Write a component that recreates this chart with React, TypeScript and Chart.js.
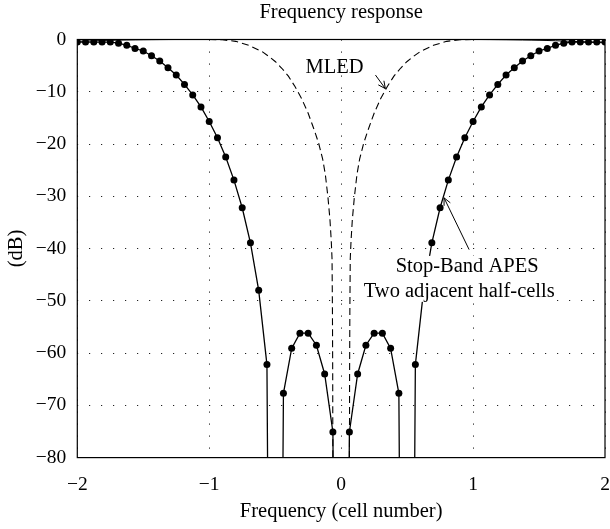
import React, { useEffect, useRef } from "react";
import { Chart, registerables } from "chart.js";

Chart.register(...registerables);

// Frequency axis (cell number), sampled at 1/16 cell
const freqGrid = [
  -2, -1.9375, -1.875, -1.8125, -1.75, -1.6875, -1.625, -1.5625, -1.5, -1.4375, -1.375, -1.3125,
  -1.25, -1.1875, -1.125, -1.0625, -1, -0.9375, -0.875, -0.8125, -0.75, -0.6875, -0.625, -0.5625,
  -0.5, -0.4375, -0.375, -0.3125, -0.25, -0.1875, -0.125, -0.0625, 0, 0.0625, 0.125, 0.1875, 0.25,
  0.3125, 0.375, 0.4375, 0.5, 0.5625, 0.625, 0.6875, 0.75, 0.8125, 0.875, 0.9375, 1, 1.0625, 1.125,
  1.1875, 1.25, 1.3125, 1.375, 1.4375, 1.5, 1.5625, 1.625, 1.6875, 1.75, 1.8125, 1.875, 1.9375, 2,
];

// Stop-band APES (two adjacent half-cells), dB; -300 marks the deep nulls
const apesDb = [
  -0.5, -0.5, -0.5, -0.5, -0.5, -0.7, -1.1, -1.7, -2.2, -3.1, -4.1, -5.4, -6.8, -8.6, -10.6, -12.9,
  -15.7, -18.8, -22.5, -26.9, -32.2, -38.9, -48.0, -62.2, -300, -67.7, -59.1, -56.2, -56.2, -58.5,
  -64.0, -75.1, -300, -75.1, -64.0, -58.5, -56.2, -56.2, -59.1, -67.7, -300, -62.2, -48.0, -38.9,
  -32.2, -26.9, -22.5, -18.8, -15.7, -12.9, -10.6, -8.6, -6.8, -5.4, -4.1, -3.1, -2.2, -1.7, -1.1,
  -0.7, -0.5, -0.5, -0.5, -0.5, -0.5,
];

// MLED response
const mledFreq = [
  -2, -1.5, -1, -0.9, -0.8, -0.7, -0.6, -0.55, -0.5, -0.45, -0.4, -0.35, -0.3, -0.25, -0.2, -0.17,
  -0.14, -0.12, -0.1, -0.085, -0.075, -0.069, -0.066, -0.064, -0.063, -0.055, 0, 0.055, 0.063, 0.064,
  0.066, 0.069, 0.075, 0.085, 0.1, 0.12, 0.14, 0.17, 0.2, 0.25, 0.3, 0.35, 0.4, 0.45, 0.5, 0.55, 0.6,
  0.7, 0.8, 0.9, 1, 1.5, 2,
];
const mledDb = [
  0, 0, 0, -0.05, -0.35, -1.1, -2.3, -3.2, -4.2, -5.5, -7.0, -9.0, -11.3, -14.1, -17.6, -19.9, -22.9,
  -25.8, -30.2, -34.4, -38.5, -42, -52, -64, -80, -300, -300, -300, -80, -64, -52, -42, -38.5, -34.4,
  -30.2, -25.8, -22.9, -19.9, -17.6, -14.1, -11.3, -9.0, -7.0, -5.5, -4.2, -3.2, -2.3, -1.1, -0.35,
  -0.05, 0, 0, 0,
];

// Pass-band ripple curve near 0 dB
const passFreq = [-2, -1.75, -1.5, -1.25, -1, 0, 1, 1.25, 1.5, 1.75, 2];
const passDb = [-0.35, -0.15, -0.05, 0, 0, 0, 0, -0.05, -0.15, -0.35, -0.65];

const xTickValues = [-2, -1, 0, 1, 2];
const yTickValues = [-80, -70, -60, -50, -40, -30, -20, -10, 0];

const titleText = "Frequency response";
const xTitle = "Frequency (cell number)";
const yTitle = "(dB)";
const mledLabel = "MLED";
const apesLabel = ["Stop-Band APES", "Two adjacent half-cells"];

const FONT = '"Liberation Serif", "Times New Roman", serif';

const fmt = (v: number) => (v < 0 ? "\u2212" + Math.abs(v) : String(v));

function arrow(ctx: CanvasRenderingContext2D, x0: number, y0: number, x1: number, y1: number) {
  const ang = Math.atan2(y1 - y0, x1 - x0);
  const len = 8;
  const spread = 0.45;
  ctx.beginPath();
  ctx.moveTo(x0, y0);
  ctx.lineTo(x1, y1);
  ctx.moveTo(x1 - len * Math.cos(ang - spread), y1 - len * Math.sin(ang - spread));
  ctx.lineTo(x1, y1);
  ctx.lineTo(x1 - len * Math.cos(ang + spread), y1 - len * Math.sin(ang + spread));
  ctx.stroke();
}

const overlay = {
  id: "overlay",
  afterDatasetsDraw(chart: any) {
    const { ctx, chartArea: a, scales } = chart;
    const x = scales.x;
    const y = scales.y;
    const px = (v: number) => x.getPixelForValue(v);
    const py = (v: number) => y.getPixelForValue(v);
    ctx.save();
    ctx.fillStyle = "#000";
    ctx.strokeStyle = "#000";
    ctx.lineWidth = 1;
    ctx.font = `20.5px ${FONT}`;
    ctx.textAlign = "center";
    ctx.textBaseline = "middle";

    // MLED label and pointer
    ctx.fillText(mledLabel, px(-0.05), py(-5.3));
    arrow(ctx, px(0.26), py(-6.8), px(0.335), py(-9.4));

    // APES label box and pointer
    const bx0 = px(0.12);
    const bx1 = px(1.62);
    const by0 = py(-41.4);
    const by1 = py(-50.2);
    ctx.fillStyle = "#fff";
    ctx.fillRect(bx0, by0, bx1 - bx0, by1 - by0);
    ctx.fillStyle = "#000";
    ctx.fillText(apesLabel[0], px(0.955), py(-43.4));
    ctx.fillText(apesLabel[1], px(0.895), py(-48.2));
    arrow(ctx, px(0.97), py(-40.2), px(0.78), py(-30.3));

    // axes box
    ctx.lineWidth = 1.2;
    ctx.strokeRect(a.left, a.top, a.right - a.left, a.bottom - a.top);

    // title centred over the plot area
    ctx.font = `20.5px ${FONT}`;
    ctx.fillText(titleText, (a.left + a.right) / 2, 13);
    ctx.restore();
  },
};

export default function App() {
  const ref = useRef<HTMLCanvasElement | null>(null);

  useEffect(() => {
    if (!ref.current) return;
    Chart.defaults.font.family = FONT;
    Chart.defaults.color = "#000";

    const apesPts = freqGrid.map((f, i) => ({ x: f, y: apesDb[i] }));
    const mledPts = mledFreq.map((f, i) => ({ x: f, y: mledDb[i] }));
    const passPts = passFreq.map((f, i) => ({ x: f, y: passDb[i] }));

    const chart = new Chart(ref.current, {
      type: "line",
      data: {
        datasets: [
          {
            label: "Pass band",
            data: passPts,
            borderColor: "#000",
            borderWidth: 1,
            pointRadius: 0,
            tension: 0.3,
          },
          {
            label: "MLED",
            data: mledPts,
            borderColor: "#000",
            borderWidth: 1.1,
            borderDash: [7, 4],
            pointRadius: 0,
            tension: 0,
          },
          {
            label: "Stop-Band APES",
            data: apesPts,
            borderColor: "#000",
            borderWidth: 1.3,
            pointRadius: (c: any) => (c.raw && c.raw.y < -80 ? 0 : 3.5),
            pointBackgroundColor: "#000",
            pointBorderWidth: 0,
            tension: 0,
          },
        ],
      },
      options: {
        responsive: false,
        animation: false,
        events: [],
        layout: { padding: { top: 39.5, right: 5, left: 0, bottom: 0 } },
        plugins: {
          legend: { display: false },
          tooltip: { enabled: false },
          title: { display: false },
        },
        scales: {
          x: {
            type: "linear",
            min: -2,
            max: 2,
            afterBuildTicks: (s: any) => {
              s.ticks = xTickValues.map((v) => ({ value: v }));
            },
            afterFit: (s: any) => {
              s.height = 71.4;
              s.paddingLeft = 0;
              s.paddingRight = 5;
            },
            ticks: {
              callback: (v: any) => fmt(Number(v)),
              padding: 16,
              maxRotation: 0,
              font: { size: 19.5 },
              color: "#000",
            },
            grid: { color: "#222", lineWidth: 1, drawTicks: false },
            border: { display: false, dash: [1.2, 10.8] },
            title: {
              display: true,
              text: xTitle,
              font: { size: 20.5 },
              color: "#000",
              padding: { top: 4, bottom: 5 },
            },
          },
          y: {
            type: "linear",
            min: -80,
            max: 0,
            afterBuildTicks: (s: any) => {
              s.ticks = yTickValues.map((v) => ({ value: v }));
            },
            afterFit: (s: any) => {
              s.width = 77.3;
            },
            ticks: {
              callback: (v: any) => fmt(Number(v)),
              padding: 11,
              font: { size: 19.5 },
              color: "#000",
            },
            grid: { color: "#222", lineWidth: 1, drawTicks: false },
            border: { display: false, dash: [1.2, 10.8] },
            title: {
              display: true,
              text: yTitle,
              font: { size: 20.5 },
              color: "#000",
              padding: { top: 4, bottom: 4 },
            },
          },
        },
      },
      plugins: [overlay],
    });
    return () => chart.destroy();
  }, []);

  return (
    <div style={{ position: "absolute", left: 0, top: 0, width: 610, height: 529, background: "#fff" }}>
      <canvas ref={ref} width={610} height={529} style={{ display: "block" }} />
    </div>
  );
}
